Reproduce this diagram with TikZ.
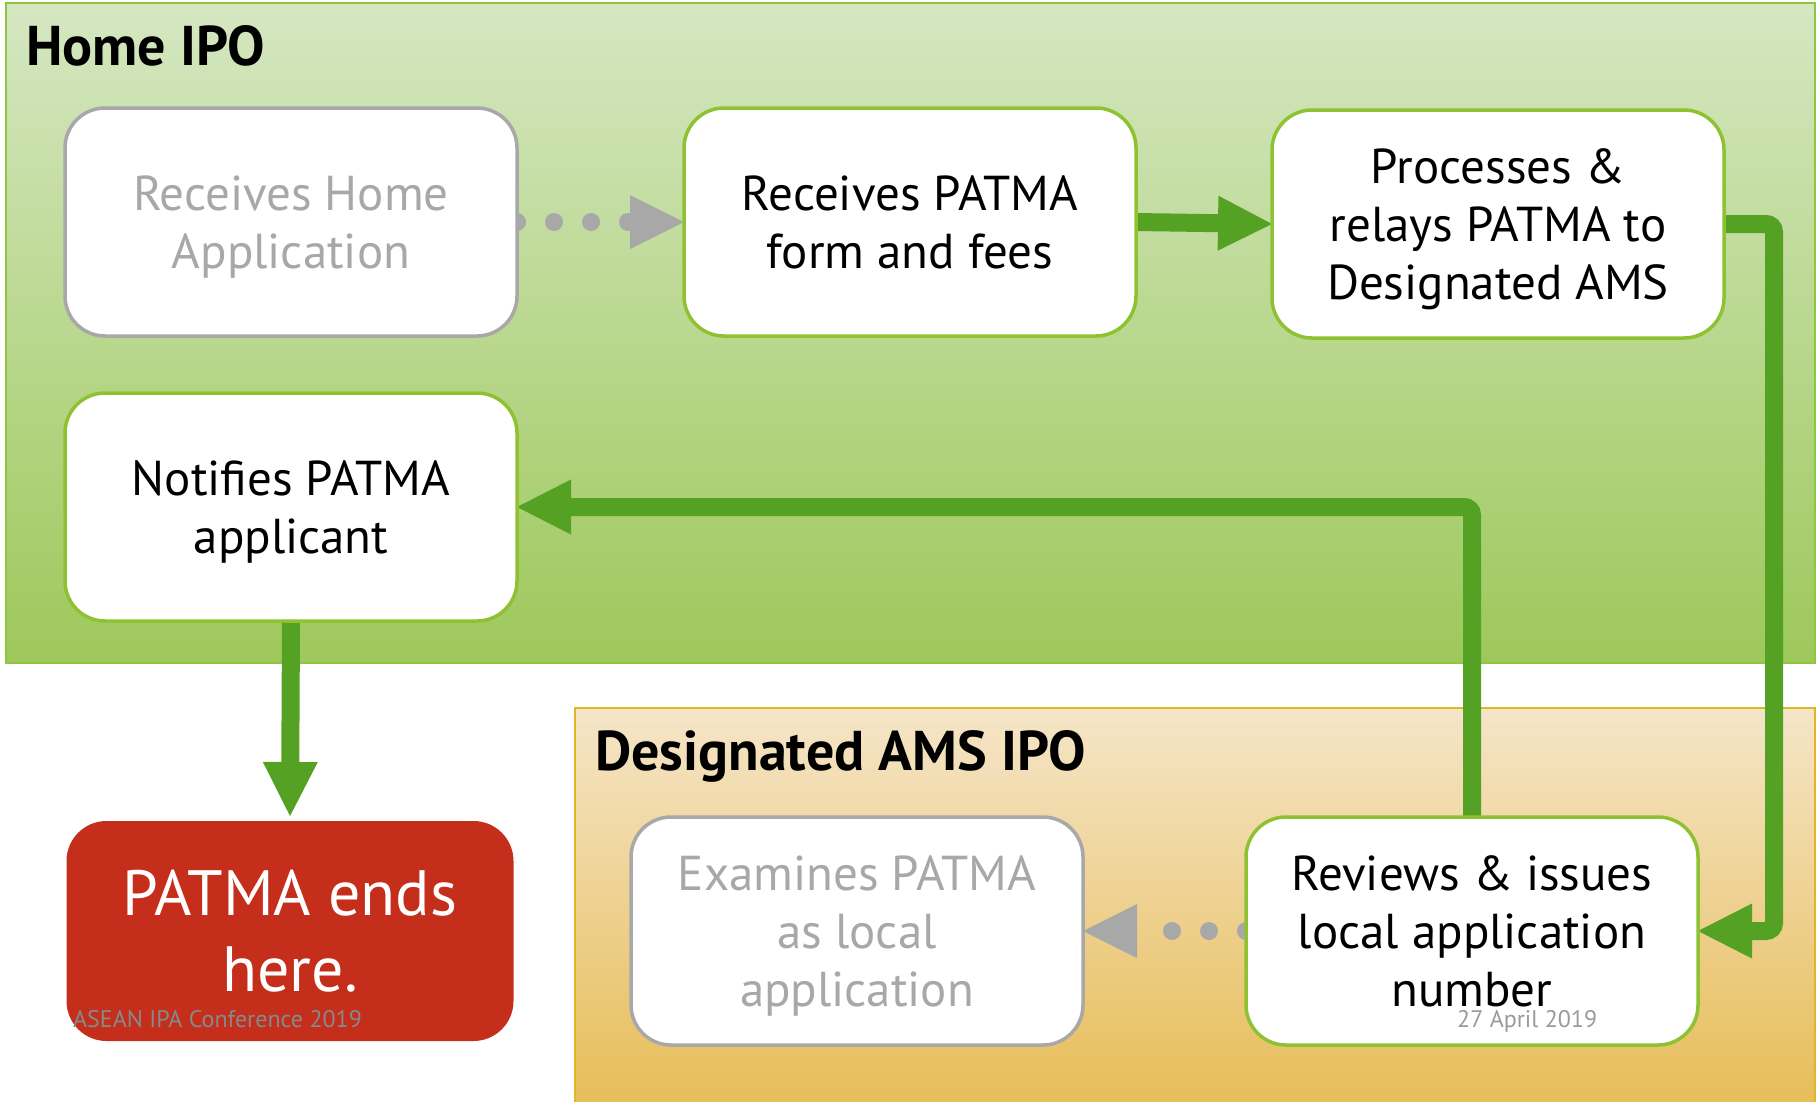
\documentclass[tikz,border=0pt]{standalone}
\usepackage{fontspec}
\setmainfont{PT Sans}
\usetikzlibrary{arrows.meta}
\definecolor{gline}{HTML}{55A124}
\definecolor{gborder}{HTML}{8FC232}
\definecolor{grayc}{HTML}{A8A8A8}
\definecolor{redbox}{HTML}{C42E1B}
\definecolor{hometop}{HTML}{D5E7C2}
\definecolor{homebot}{HTML}{9EC85B}
\definecolor{homeedge}{HTML}{8DC63F}
\definecolor{amstop}{HTML}{F5E5C8}
\definecolor{amsbot}{HTML}{E7BD58}
\definecolor{amsedge}{HTML}{E4B424}
\definecolor{footgray}{HTML}{858A8A}
\definecolor{dategray}{HTML}{9A9A9A}
\pgfdeclarelayer{bg}\pgfdeclarelayer{conn}\pgfsetlayers{bg,conn,main}
\begin{document}
\begin{tikzpicture}[x=1pt,y=-1pt,
  basebox/.style={draw=gborder, line width=3.5pt, fill=white, rounded corners=40pt,
    minimum width=452pt, minimum height=228pt, inner sep=0pt, outer sep=0pt,
    align=center, font=\fontsize{49}{58}\selectfont, text=black},
  box/.style={basebox, text depth=0pt},
  greybox/.style={box, draw=grayc, text=grayc},
  endbox/.style={basebox, draw=none, fill=redbox, text=white, minimum width=447pt,
    minimum height=220pt, font=\fontsize{64}{76}\selectfont},
  title/.style={anchor=base west, inner sep=0pt, font=\fontsize{56}{62}\selectfont\bfseries, text=black},
  foot/.style={anchor=base west, inner sep=0pt, font=\fontsize{24}{28}\selectfont},
  garrow/.style={draw=gline, line width=18pt,
    -{Triangle[length=54pt,width=55pt,line width=0pt]}},
  gdots/.style={draw=grayc, line width=18pt, line cap=round, dash pattern=on 0pt off 37pt,
    -{Triangle[length=54pt,width=54pt,line width=0pt]}}]
\useasboundingbox (0,0) rectangle (1818,1101);
% panels
\begin{pgfonlayer}{bg}
\fill[top color=hometop, bottom color=homebot] (6,3) rectangle (1815,663);
\draw[homeedge, line width=2pt] (6,3) rectangle (1815,663);
\fill[top color=amstop, bottom color=amsbot] (575,708) rectangle (1815,1106);
\draw[amsedge, line width=2pt] (575,708) rectangle (1815,1106);
\end{pgfonlayer}
% titles
\node[title] (homet) at (26,65) {Home IPO};
\node[title] (amst) at (595,770) {Designated AMS IPO};
% boxes
\node[greybox] (b1) at (291,222) {Receives Home\\Application};
\node[box] (b2) at (910,222) {Receives PATMA\\form and fees};
\node[box] (b3) at (1498,224) {Processes \&\\relays PATMA to\\Designated AMS};
\node[box] (b4) at (291,507) {Notifies PATMA\\applicant};
\node[endbox] (b5) at (290,931) {PATMA ends\\here.};
\node[greybox] (b6) at (857,931) {Examines PATMA\\as local\\application};
\node[box] (b7) at (1472,931) {Reviews \& issues\\local application\\number};
% connectors
\begin{pgfonlayer}{conn}
\draw[gdots] (b1.east) -- (b2.west);
\draw[garrow] (b2.east) -- (b3.west);
\draw[garrow, rounded corners=8pt] (b3.east) -- ++(50,0) |- (b7.east);
\draw[gdots] (b7.west) -- (b6.east);
\draw[garrow, rounded corners=8pt] (b7.north) |- (b4.east);
\draw[garrow, shorten >=5pt] (b4.south) -- (b5.north);
\end{pgfonlayer}
% footer texts
\node[foot, text=footgray] (conf) at (73,1027) {ASEAN IPA Conference 2019};
\node[foot, text=dategray] (date) at (1457,1027) {27 April 2019};
\end{tikzpicture}
\end{document}
